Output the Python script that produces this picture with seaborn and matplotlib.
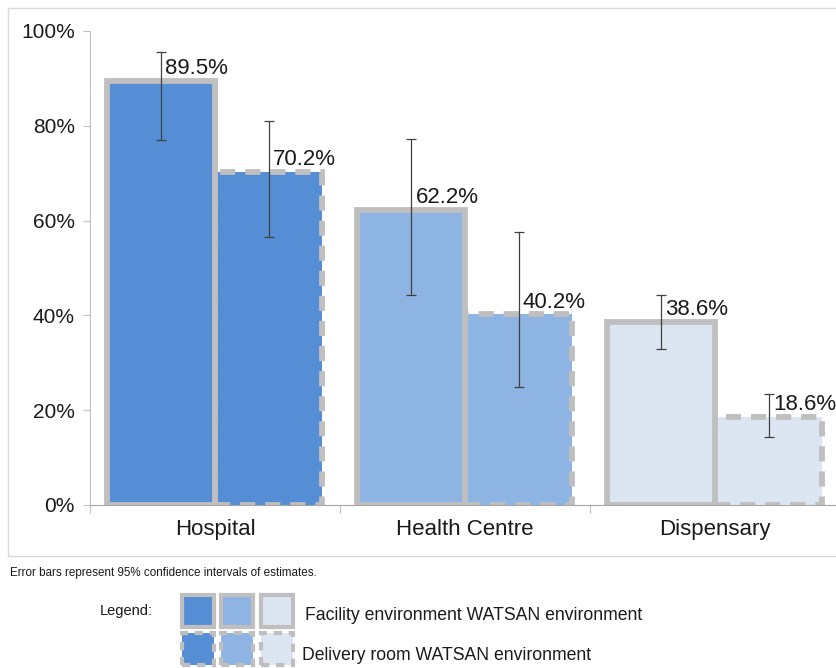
import matplotlib.pyplot as plt
import numpy as np
import pandas as pd
import seaborn as sns
from matplotlib.patches import Rectangle
from matplotlib.ticker import PercentFormatter

# data (percent)
facilities = ["Hospital", "Health Centre", "Dispensary"]
settings = ["Facility environment", "Delivery room"]
facility_env = [89.5, 62.2, 38.6]
delivery_room = [70.2, 40.2, 18.6]
facility_ci_low = [77.0, 44.2, 33.0]
facility_ci_high = [95.5, 77.3, 44.4]
delivery_ci_low = [56.5, 24.8, 14.3]
delivery_ci_high = [81.0, 57.6, 23.4]

colors = ["#558ED5", "#8EB4E3", "#DCE6F2"]
edge_gray = "#BFBFBF"

W, H = 837, 668

df = pd.DataFrame({
    "facility": facilities * 2,
    "setting": [settings[0]] * 3 + [settings[1]] * 3,
    "value": facility_env + delivery_room,
})

sns.set_style("white")
plt.rcParams["font.family"] = ["Liberation Sans", "DejaVu Sans"]

fig = plt.figure(figsize=(W / 100, H / 100), dpi=100)


def fx(px):
    return px / W


def fy(py):
    return 1 - py / H


ax = fig.add_axes([fx(90), fy(505), fx(750), fy(31) - fy(505)])

sns.barplot(data=df, x="facility", y="value", hue="setting", ax=ax,
            width=0.86, gap=0, legend=False, errorbar=None)

# recolour per facility, dashed outline for the delivery room bars
bars = ax.patches[:6]
for i, p in enumerate(bars):
    cat = i % 3
    p.set_facecolor(colors[cat])
    p.set_edgecolor(edge_gray)
    p.set_linewidth(4.2)
    if i >= 3:
        p.set_linestyle((0, (2.6, 1.7)))
        p.set_zorder(2)
    else:
        p.set_zorder(3)

values = facility_env + delivery_room
lows = facility_ci_low + delivery_ci_low
highs = facility_ci_high + delivery_ci_high
for p, v, lo, hi in zip(bars, values, lows, highs):
    xc = p.get_x() + p.get_width() / 2
    ax.errorbar(xc, v, yerr=[[v - lo], [hi - v]], fmt="none",
                ecolor="#404040", elinewidth=0.9, capsize=3.5, capthick=0.9,
                zorder=5)
    ax.annotate(f"{v:.1f}%", (xc, v), xytext=(3, 5), textcoords="offset points",
                ha="left", va="baseline", fontsize=16, color="#1a1a1a", zorder=6)

ax.set_ylim(0, 100)
ax.set_xlim(-0.5, 2.5)
ax.yaxis.set_major_formatter(PercentFormatter(100, decimals=0))
ax.set_yticks(np.arange(0, 101, 20))
ax.set_xlabel("")
ax.set_ylabel("")

ax.tick_params(axis="y", labelsize=15, length=5, width=0.8, color="#BFBFBF",
               direction="out", left=True, labelcolor="#1a1a1a", pad=6)
ax.tick_params(axis="x", which="major", labelsize=16, length=0, pad=10,
               labelcolor="#1a1a1a")
ax.set_xticks([-0.5, 0.5, 1.5, 2.5], minor=True)
ax.tick_params(axis="x", which="minor", length=6, width=0.8, color="#BFBFBF",
               direction="out", bottom=True)

for side in ["top", "right"]:
    ax.spines[side].set_visible(False)
ax.spines["left"].set_color("#BFBFBF")
ax.spines["bottom"].set_color("#A6A6A6")
ax.spines["left"].set_linewidth(0.8)
ax.spines["bottom"].set_linewidth(0.8)

# outer chart frame
fig.add_artist(Rectangle((fx(8), fy(556)), fx(840) - fx(8), fy(8) - fy(556),
                         transform=fig.transFigure, fill=False,
                         edgecolor="#D9D9D9", linewidth=1))

fig.text(fx(10), fy(573), "Error bars represent 95% confidence intervals of estimates.",
         fontsize=8.4, va="center", ha="left", color="#1a1a1a")

# legend drawn by hand
fig.text(fx(100), fy(611), "Legend:", fontsize=10.5,
         va="center", ha="left", color="#1a1a1a")
sq_x = [180, 219, 259]
for row, (y0, ls) in enumerate([(595, "solid"), (633, (0, (2, 1.6)))]):
    for x0, c in zip(sq_x, colors):
        fig.add_artist(Rectangle((fx(x0 + 2), fy(y0 + 32)), fx(32), fy(0) - fy(32),
                                 transform=fig.transFigure, facecolor=c,
                                 edgecolor=edge_gray, linewidth=3.0, linestyle=ls))
fig.text(fx(305), fy(615), "Facility environment WATSAN environment", fontsize=12.7,
         va="center", ha="left", color="#1a1a1a")
fig.text(fx(302), fy(655), "Delivery room WATSAN environment", fontsize=12.7,
         va="center", ha="left", color="#1a1a1a")

fig.savefig("out.png", dpi=100)
